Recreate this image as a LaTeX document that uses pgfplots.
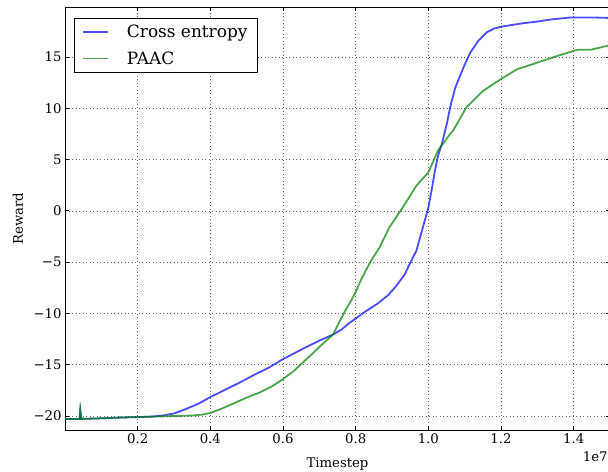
\documentclass[border=0pt]{standalone}
\usepackage{fontspec}
\setmainfont{DejaVu Serif}
\usepackage{pgfplots}
\pgfplotsset{compat=1.18}

\newcommand{\tickfont}{\fontsize{13.3}{16}\selectfont}
\newcommand{\legfont}{\fontsize{17}{20}\selectfont}

\begin{document}
\begin{tikzpicture}
\begin{axis}[
    at={(0,0)}, anchor=south west,
    scale only axis,
    width=545bp, height=423bp,
    xmin=0, xmax=1.5,
    ymin=-21.38, ymax=19.85,
    clip mode=individual,
    xtick={0.2,0.4,0.6,0.8,1.0,1.2,1.4},
    xticklabels={0.2,0.4,0.6,0.8,1.0,1.2,1.4},
    ytick={-20,-15,-10,-5,0,5,10,15},
    yticklabels={−20,−15,−10,−5,0,5,10,15},
    /pgf/number format/assume math mode=true,
    ticklabel style={font=\tickfont},
    tick align=inside, tick pos=both,
    major tick length=4bp,
    tick style={black, line width=0.8bp},
    axis line style={black, line width=1bp},
    grid=major,
    grid style={black!60, line width=0.6bp, dash pattern=on 1bp off 2.5bp},
    xlabel={Timestep}, ylabel={Reward},
    label style={font=\tickfont},
    xlabel style={at={(axis description cs:0.5,-0.0875)}, anchor=base},
    ylabel style={at={(axis description cs:-0.0771,0.5)}, anchor=base},
    legend cell align=left,
    legend style={at={(axis description cs:0.0165,0.975)}, anchor=north west,
        draw=black, fill=white, font=\legfont,
        inner xsep=8bp, inner ysep=5bp, row sep=8.5bp,
        /tikz/every odd column/.append style={column sep=16bp}},
    legend image code/.code={\draw[#1, line width=1.8bp] (0bp,0bp) -- (25bp,0bp);},
]

% Cross entropy
\addplot[color={rgb,255:red,0;green,0;blue,255}, opacity=0.7, line width=1.8bp] coordinates {
    (0.000,-20.30) (0.040,-20.28) (0.042,-19.40) (0.045,-20.28)
    (0.100,-20.22) (0.150,-20.15) (0.200,-20.10) (0.240,-20.05)
    (0.270,-19.95) (0.300,-19.75) (0.334,-19.30) (0.370,-18.75)
    (0.400,-18.15) (0.440,-17.45) (0.480,-16.75) (0.520,-16.00)
    (0.560,-15.30) (0.600,-14.45) (0.630,-13.90) (0.657,-13.40)
    (0.700,-12.65) (0.738,-12.05) (0.760,-11.60) (0.780,-11.00)
    (0.800,-10.50) (0.823,-9.90) (0.860,-9.05) (0.890,-8.20)
    (0.912,-7.30) (0.935,-6.20) (0.949,-5.15) (0.967,-3.90)
    (0.985,-1.60) (1.000,0.30) (1.009,2.00) (1.018,3.90)
    (1.027,5.40) (1.037,6.50) (1.051,8.50) (1.060,10.10)
    (1.074,12.00) (1.097,14.00) (1.115,15.40) (1.138,16.60)
    (1.161,17.40) (1.180,17.75) (1.200,17.95) (1.263,18.30)
    (1.300,18.45) (1.337,18.65) (1.392,18.85) (1.450,18.85)
    (1.500,18.80)
};
\addlegendentry{Cross entropy}

% PAAC
\addplot[color={rgb,255:red,0;green,128;blue,0}, opacity=0.7, line width=1.8bp] coordinates {
    (0.000,-20.30) (0.040,-20.28) (0.042,-19.40) (0.045,-20.28)
    (0.100,-20.22) (0.150,-20.15) (0.200,-20.10) (0.250,-20.05)
    (0.300,-20.00) (0.350,-19.95) (0.380,-19.85) (0.400,-19.70)
    (0.430,-19.30) (0.462,-18.80) (0.500,-18.20) (0.536,-17.70)
    (0.570,-17.10) (0.600,-16.40) (0.630,-15.60) (0.657,-14.70)
    (0.680,-13.95) (0.702,-13.20) (0.738,-12.03) (0.767,-10.00)
    (0.785,-8.90) (0.800,-7.90) (0.815,-6.70) (0.840,-5.00)
    (0.866,-3.55) (0.893,-1.60) (0.930,0.35) (0.967,2.45)
    (1.000,3.75) (1.027,5.90) (1.060,7.50) (1.068,7.80)
    (1.105,10.10) (1.151,11.70) (1.200,12.85) (1.244,13.80)
    (1.300,14.45) (1.355,15.10) (1.410,15.70) (1.447,15.70)
    (1.500,16.15)
};
\addlegendentry{PAAC}

\node[anchor=base east, inner sep=0pt, font=\tickfont] at (axis description cs:0.996,-0.0745) {1e7};
\end{axis}
\pgfresetboundingbox
\path[use as bounding box] (-65bp,-41.8bp) rectangle (543bp,430.2bp);
\end{tikzpicture}
\end{document}
